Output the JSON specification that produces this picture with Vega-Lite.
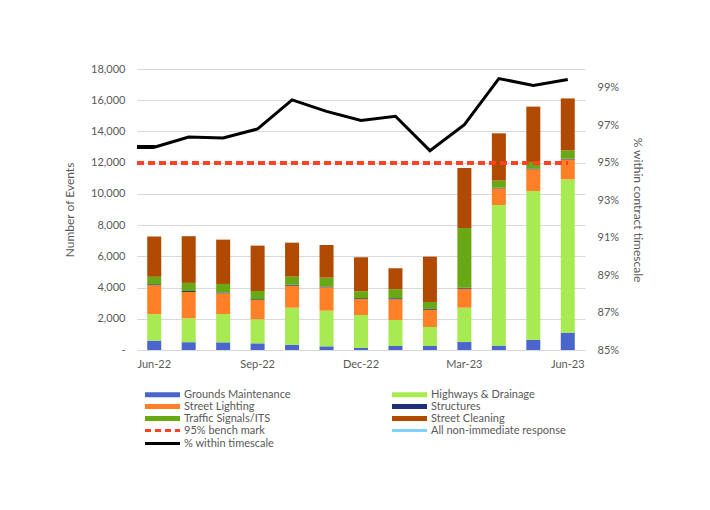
{
  "$schema": "https://vega.github.io/schema/vega-lite/v6.json",
  "width": 448,
  "height": 281,
  "autosize": {"type": "none"},
  "padding": {"left": 137, "top": 69, "right": 125, "bottom": 160},
  "background": "white",
  "config": {
    "font": "Lato",
    "view": {"stroke": null},
    "axis": {"labelColor": "#595959", "titleColor": "#595959", "labelFontSize": 11, "titleFontSize": 12, "titleFontWeight": "normal"}
  },
  "data": {
    "values": [
      {"month": "Jun-22", "Grounds Maintenance": 600, "Highways & Drainage": 1700, "Street Lighting": 1850, "Structures": 60, "Traffic Signals/ITS": 480, "Street Cleaning": 2580, "pct": 95.82},
      {"month": "Jul-22", "Grounds Maintenance": 500, "Highways & Drainage": 1530, "Street Lighting": 1690, "Structures": 60, "Traffic Signals/ITS": 520, "Street Cleaning": 2990, "pct": 96.37},
      {"month": "Aug-22", "Grounds Maintenance": 490, "Highways & Drainage": 1815, "Street Lighting": 1325, "Structures": 50, "Traffic Signals/ITS": 550, "Street Cleaning": 2840, "pct": 96.32},
      {"month": "Sep-22", "Grounds Maintenance": 425, "Highways & Drainage": 1540, "Street Lighting": 1235, "Structures": 50, "Traffic Signals/ITS": 530, "Street Cleaning": 2905, "pct": 96.80},
      {"month": "Oct-22", "Grounds Maintenance": 340, "Highways & Drainage": 2370, "Street Lighting": 1410, "Structures": 60, "Traffic Signals/ITS": 520, "Street Cleaning": 2175, "pct": 98.35},
      {"month": "Nov-22", "Grounds Maintenance": 235, "Highways & Drainage": 2285, "Street Lighting": 1495, "Structures": 50, "Traffic Signals/ITS": 570, "Street Cleaning": 2090, "pct": 97.74},
      {"month": "Dec-22", "Grounds Maintenance": 130, "Highways & Drainage": 2110, "Street Lighting": 1030, "Structures": 50, "Traffic Signals/ITS": 440, "Street Cleaning": 2180, "pct": 97.25},
      {"month": "Jan-23", "Grounds Maintenance": 255, "Highways & Drainage": 1665, "Street Lighting": 1330, "Structures": 60, "Traffic Signals/ITS": 580, "Street Cleaning": 1345, "pct": 97.48},
      {"month": "Feb-23", "Grounds Maintenance": 255, "Highways & Drainage": 1220, "Street Lighting": 1105, "Structures": 50, "Traffic Signals/ITS": 445, "Street Cleaning": 2905, "pct": 95.64},
      {"month": "Mar-23", "Grounds Maintenance": 510, "Highways & Drainage": 2200, "Street Lighting": 1220, "Structures": 60, "Traffic Signals/ITS": 3825, "Street Cleaning": 3845, "pct": 97.03},
      {"month": "Apr-23", "Grounds Maintenance": 280, "Highways & Drainage": 9010, "Street Lighting": 1065, "Structures": 40, "Traffic Signals/ITS": 455, "Street Cleaning": 3030, "pct": 99.49},
      {"month": "May-23", "Grounds Maintenance": 660, "Highways & Drainage": 9525, "Street Lighting": 1390, "Structures": 50, "Traffic Signals/ITS": 420, "Street Cleaning": 3545, "pct": 99.12},
      {"month": "Jun-23", "Grounds Maintenance": 1110, "Highways & Drainage": 9825, "Street Lighting": 1270, "Structures": 50, "Traffic Signals/ITS": 530, "Street Cleaning": 3330, "pct": 99.44}
    ]
  },
  "encoding": {
    "x": {
      "field": "month", "type": "ordinal", "sort": null,
      "scale": {"paddingInner": 0, "paddingOuter": 0},
      "axis": {"title": null, "labelAngle": 0, "values": ["Jun-22", "Sep-22", "Dec-22", "Mar-23", "Jun-23"], "ticks": false, "domainColor": "#d9d9d9", "labelPadding": 8}
    }
  },
  "layer": [
    {
      "transform": [
        {"fold": ["Grounds Maintenance", "Highways & Drainage", "Street Lighting", "Structures", "Traffic Signals/ITS", "Street Cleaning"], "as": ["category", "events"]},
        {"lookup": "category", "from": {"data": {"values": [
          {"category": "Grounds Maintenance", "rank": 1},
          {"category": "Highways & Drainage", "rank": 2},
          {"category": "Street Lighting", "rank": 3},
          {"category": "Structures", "rank": 4},
          {"category": "Traffic Signals/ITS", "rank": 5},
          {"category": "Street Cleaning", "rank": 6}
        ]}, "key": "category", "fields": ["rank"]}}
      ],
      "mark": {"type": "bar", "width": 14},
      "encoding": {
        "y": {
          "field": "events", "type": "quantitative", "stack": "zero",
          "scale": {"domain": [0, 18000], "nice": false},
          "axis": {"title": "Number of Events", "values": [0, 2000, 4000, 6000, 8000, 10000, 12000, 14000, 16000, 18000], "labelExpr": "datum.value === 0 ? '-' : format(datum.value, ',')", "gridColor": "#d9d9d9", "ticks": false, "domain": false, "labelPadding": 12, "titlePadding": 14}
        },
        "order": {"field": "rank", "type": "quantitative", "sort": "ascending"},
        "color": {
          "field": "category", "type": "nominal",
          "scale": {
            "domain": ["Grounds Maintenance", "Highways & Drainage", "Street Lighting", "Structures", "Traffic Signals/ITS", "Street Cleaning", "95% bench mark", "All non-immediate response", "% within timescale"],
            "range": ["#4A66CC", "#A8EA52", "#FF8026", "#1F2E78", "#68A815", "#B04A00", "#FF4124", "#7FD3F7", "#000000"]
          },
          "legend": {
            "title": null, "orient": "none", "legendX": 20, "legendY": 320, "columns": 2, "direction": "horizontal",
            "symbolType": "M-3.5,0H3.5", "symbolSize": 100, "symbolStrokeWidth": 3,
            "labelFontSize": 11, "labelColor": "#595959", "labelOffset": 16, "rowPadding": 0, "columnPadding": 95, "labelLimit": 300,
            "encode": {
              "symbols": {
                "update": {
                  "shape": {"signal": "(datum.value === '95% bench mark' || datum.value === '% within timescale' || datum.value === 'All non-immediate response') ? 'M-3.5,0H3.5' : 'M-3.5,-0.5H3.5V0.5H-3.5Z'"},
                  "fill": {"signal": "(datum.value === '95% bench mark' || datum.value === '% within timescale' || datum.value === 'All non-immediate response') ? 'transparent' : scale('color', datum.value)"},
                  "stroke": {"signal": "(datum.value === '95% bench mark' || datum.value === '% within timescale' || datum.value === 'All non-immediate response') ? scale('color', datum.value) : 'transparent'"},
                  "strokeWidth": {"signal": "(datum.value === '95% bench mark' || datum.value === '% within timescale' || datum.value === 'All non-immediate response') ? 3 : 0"},
                  "strokeDash": {"signal": "datum.value === '95% bench mark' ? [6, 4] : [1, 0]"},
                  "opacity": {"value": 1}
                }
              }
            }
          }
        }
      }
    },
    {
      "layer": [
        {
          "mark": {"type": "rule", "strokeDash": [7, 4], "strokeWidth": 3},
          "encoding": {
            "x": {"datum": "Jun-22", "bandPosition": 0},
            "x2": {"datum": "Jun-23", "bandPosition": 0.5},
            "y": {"datum": 95},
            "color": {"datum": "95% bench mark"}
          }
        },
        {
          "mark": {"type": "rule", "strokeWidth": 3},
          "encoding": {
            "x": {"datum": "Jun-22", "bandPosition": 0},
            "x2": {"datum": "Jun-22", "bandPosition": 0.5},
            "y": {"datum": 95.85},
            "color": {"datum": "% within timescale"}
          }
        },
        {
          "mark": {"type": "line", "strokeWidth": 3},
          "encoding": {
            "y": {
              "field": "pct", "type": "quantitative",
              "scale": {"domain": [85, 100], "nice": false, "zero": false},
              "axis": {"orient": "right", "title": "% within contract timescale", "values": [85, 87, 89, 91, 93, 95, 97, 99], "labelExpr": "datum.value + '%'", "grid": false, "ticks": false, "domain": false, "labelPadding": 12, "titlePadding": 12}
            },
            "color": {"datum": "% within timescale"}
          }
        }
      ]
    }
  ],
  "resolve": {"scale": {"y": "independent"}}
}
